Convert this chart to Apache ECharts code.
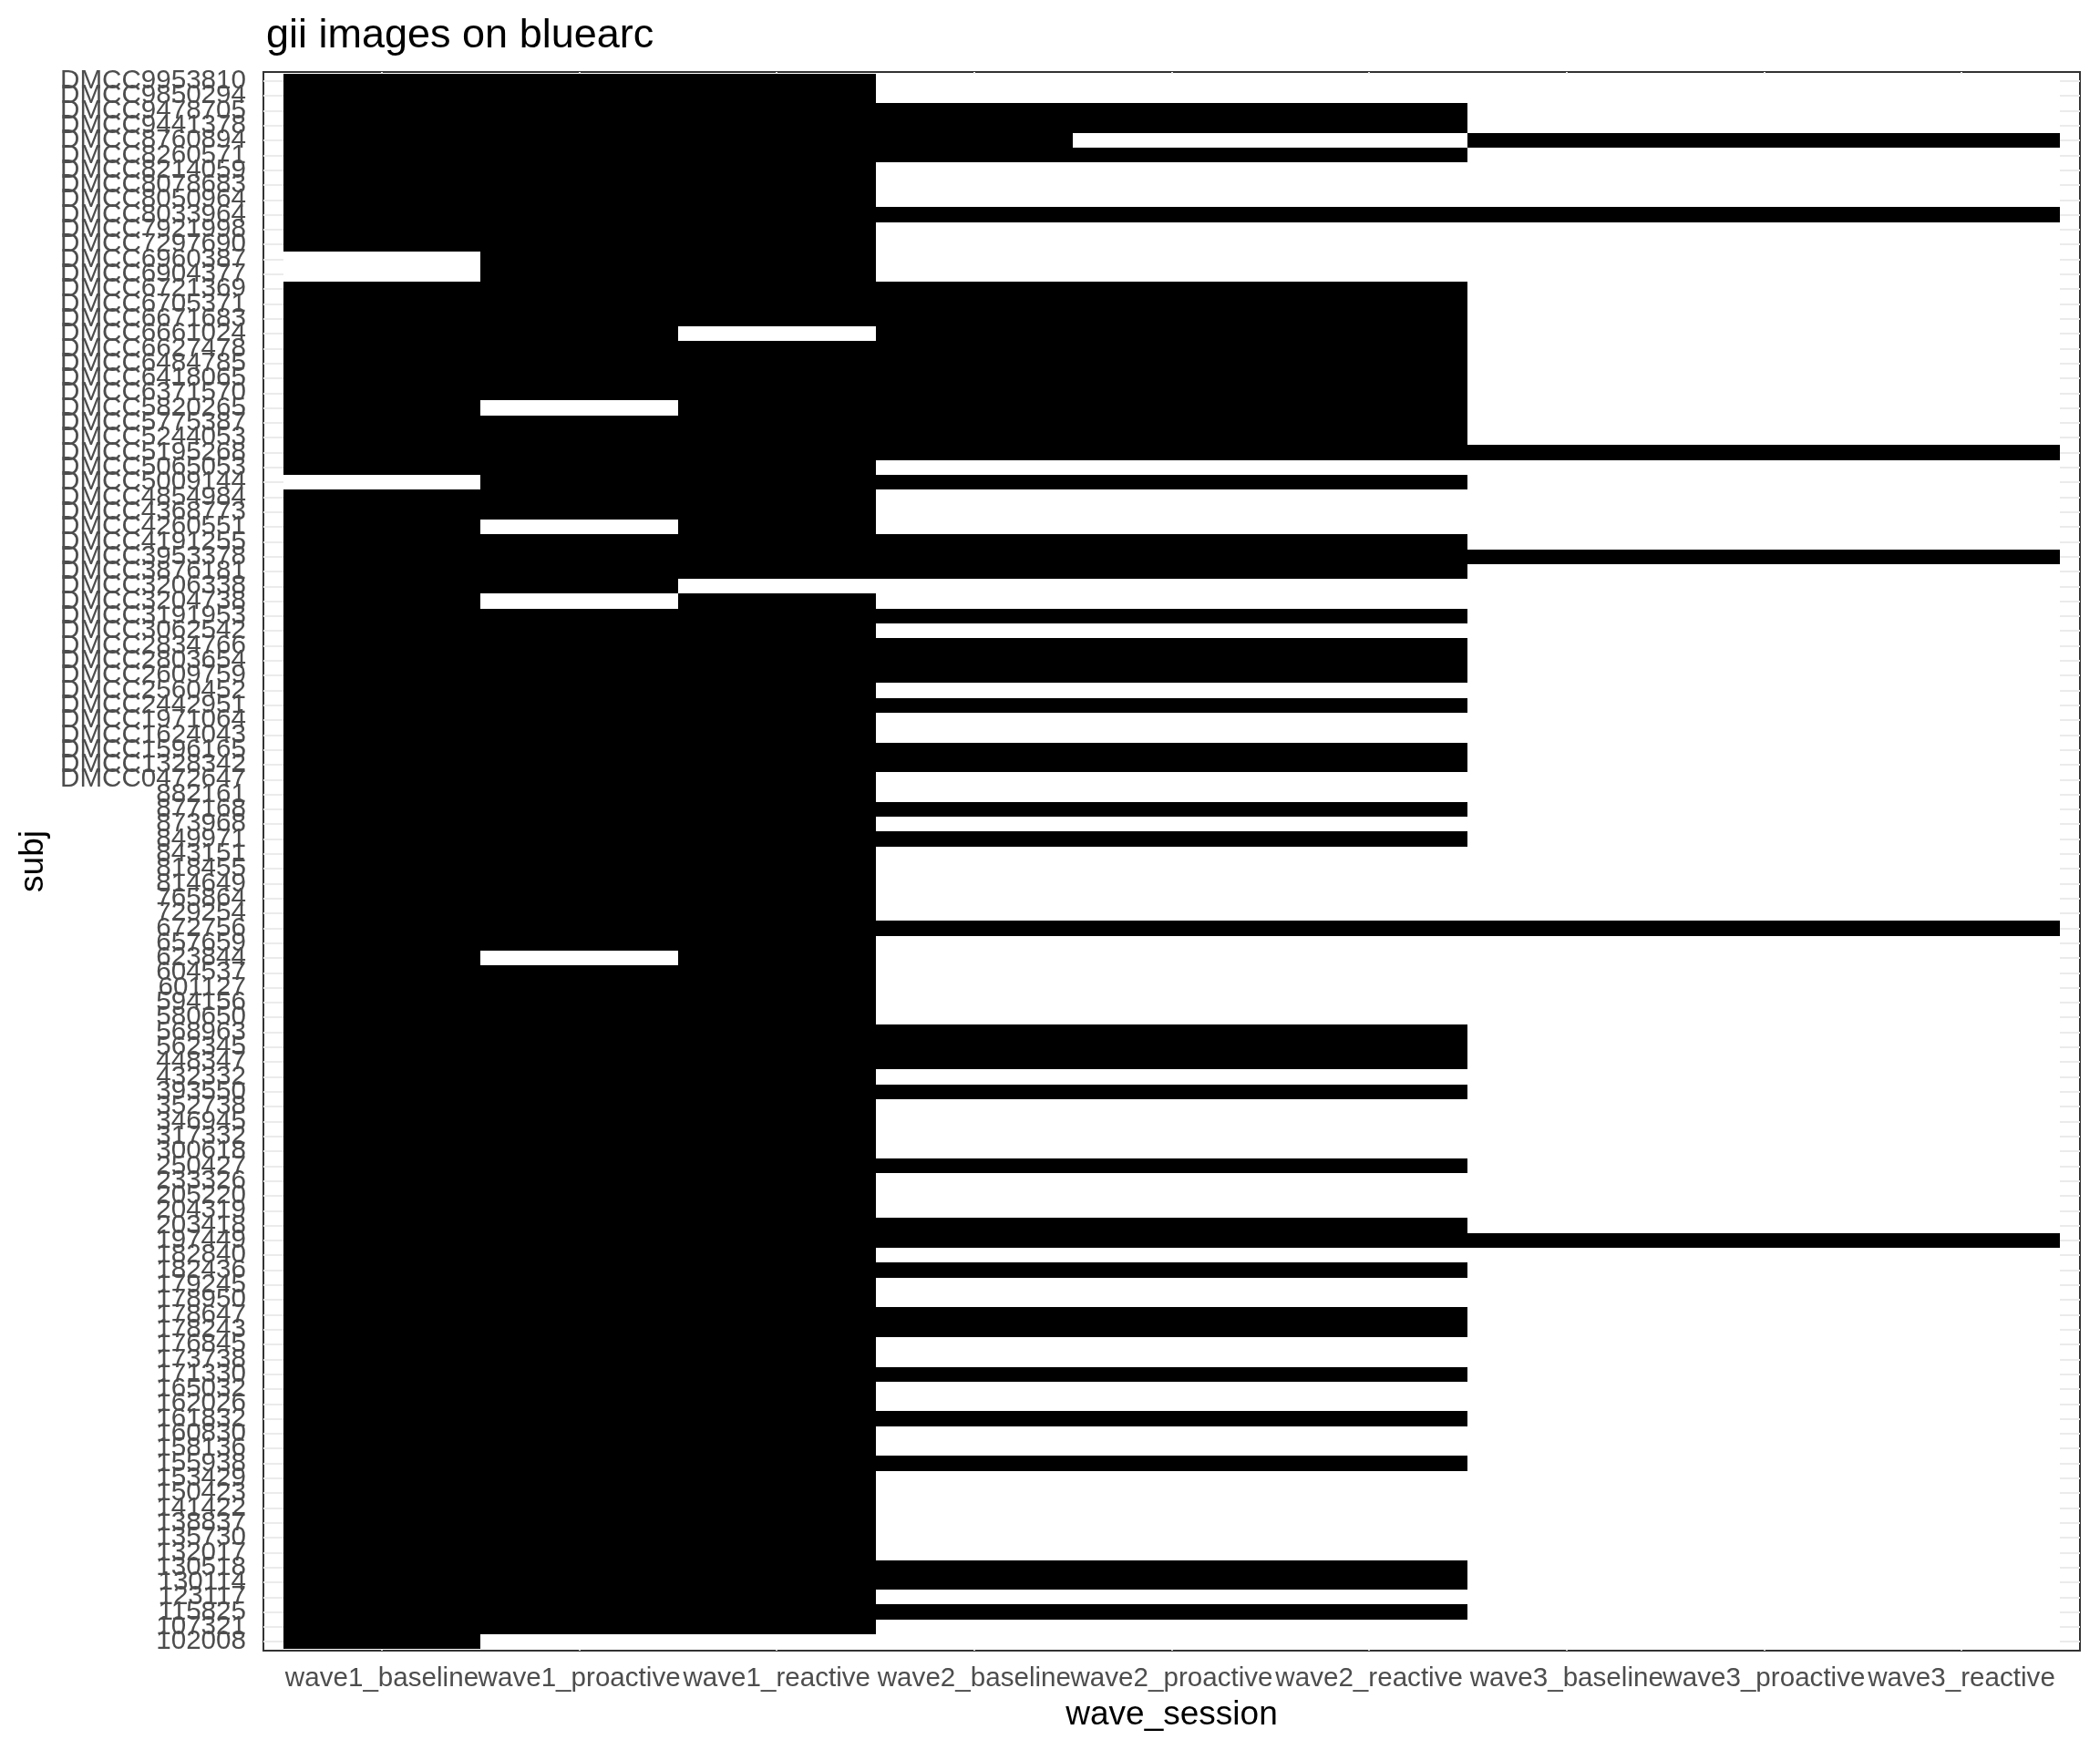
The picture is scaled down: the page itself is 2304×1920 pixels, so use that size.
<!DOCTYPE html>
<html>
<head>
<meta charset="utf-8">
<script src="https://cdn.jsdelivr.net/npm/echarts@6/dist/echarts.min.js"></script>
<style>html,body{margin:0;padding:0;background:#fff;}#chart{width:2304px;height:1920px;}</style>
</head>
<body>
<div id="chart"></div>
<script>
const sessions = ['wave1_baseline','wave1_proactive','wave1_reactive','wave2_baseline','wave2_proactive','wave2_reactive','wave3_baseline','wave3_proactive','wave3_reactive'];

const subjects = [
'DMCC9953810','DMCC9850294','DMCC9478705','DMCC9441378','DMCC8760894','DMCC8260571','DMCC8214059','DMCC8078683','DMCC8050964','DMCC8033964',
'DMCC7921998','DMCC7297690','DMCC6960387','DMCC6904377','DMCC6721369','DMCC6705371','DMCC6671683','DMCC6661024','DMCC6627478','DMCC6484785',
'DMCC6418065','DMCC6371570','DMCC5820265','DMCC5775387','DMCC5244053','DMCC5195268','DMCC5065053','DMCC5009144','DMCC4854984','DMCC4368773',
'DMCC4260551','DMCC4191255','DMCC3953378','DMCC3876181','DMCC3206338','DMCC3204738','DMCC3191953','DMCC3062542','DMCC2834766','DMCC2803654',
'DMCC2609759','DMCC2560452','DMCC2442951','DMCC1971064','DMCC1624043','DMCC1596165','DMCC1328342','DMCC0472647','882161','877168',
'873968','849971','843151','818455','814649','765864','729254','672756','657659','623844',
'604537','601127','594156','580650','568963','562345','448347','432332','393550','352738',
'346945','317332','300618','250427','233326','205220','204319','203418','197449','182840',
'182436','179245','178950','178647','178243','176845','173738','171330','165032','162026',
'161832','160830','158136','155938','153429','150423','141422','138837','135730','132017',
'130518','130114','123117','115825','107321','102008'
];

// presence (1 = image present) per session, rows in the order of `subjects`
const wave1_baseline = [
1,1,1,1,1,1,1,1,1,1, 1,1,0,0,1,1,1,1,1,1, 1,1,1,1,1,1,1,0,1,1, 1,1,1,1,1,1,1,1,1,1,
1,1,1,1,1,1,1,1,1,1, 1,1,1,1,1,1,1,1,1,1, 1,1,1,1,1,1,1,1,1,1, 1,1,1,1,1,1,1,1,1,1,
1,1,1,1,1,1,1,1,1,1, 1,1,1,1,1,1,1,1,1,1, 1,1,1,1,1,1];
const wave1_proactive = [
1,1,1,1,1,1,1,1,1,1, 1,1,1,1,1,1,1,1,1,1, 1,1,0,1,1,1,1,1,1,1, 0,1,1,1,1,0,1,1,1,1,
1,1,1,1,1,1,1,1,1,1, 1,1,1,1,1,1,1,1,1,0, 1,1,1,1,1,1,1,1,1,1, 1,1,1,1,1,1,1,1,1,1,
1,1,1,1,1,1,1,1,1,1, 1,1,1,1,1,1,1,1,1,1, 1,1,1,1,1,0];
const wave1_reactive = [
1,1,1,1,1,1,1,1,1,1, 1,1,1,1,1,1,1,0,1,1, 1,1,1,1,1,1,1,1,1,1, 1,1,1,1,0,1,1,1,1,1,
1,1,1,1,1,1,1,1,1,1, 1,1,1,1,1,1,1,1,1,1, 1,1,1,1,1,1,1,1,1,1, 1,1,1,1,1,1,1,1,1,1,
1,1,1,1,1,1,1,1,1,1, 1,1,1,1,1,1,1,1,1,1, 1,1,1,1,1,0];
const wave2_baseline = [
0,0,1,1,1,1,0,0,0,1, 0,0,0,0,1,1,1,1,1,1, 1,1,1,1,1,1,0,1,0,0, 0,1,1,1,0,0,1,0,1,1,
1,0,1,0,0,1,1,0,0,1, 0,1,0,0,0,0,0,1,0,0, 0,0,0,0,1,1,1,0,1,0, 0,0,0,1,0,0,0,1,1,0,
1,0,0,1,1,0,0,1,0,0, 1,0,0,1,0,0,0,0,0,0, 1,1,0,1,0,0];
const wave2_proactive = [
0,0,1,1,0,1,0,0,0,1, 0,0,0,0,1,1,1,1,1,1, 1,1,1,1,1,1,0,1,0,0, 0,1,1,1,0,0,1,0,1,1,
1,0,1,0,0,1,1,0,0,1, 0,1,0,0,0,0,0,1,0,0, 0,0,0,0,1,1,1,0,1,0, 0,0,0,1,0,0,0,1,1,0,
1,0,0,1,1,0,0,1,0,0, 1,0,0,1,0,0,0,0,0,0, 1,1,0,1,0,0];
const wave2_reactive = [
0,0,1,1,0,1,0,0,0,1, 0,0,0,0,1,1,1,1,1,1, 1,1,1,1,1,1,0,1,0,0, 0,1,1,1,0,0,1,0,1,1,
1,0,1,0,0,1,1,0,0,1, 0,1,0,0,0,0,0,1,0,0, 0,0,0,0,1,1,1,0,1,0, 0,0,0,1,0,0,0,1,1,0,
1,0,0,1,1,0,0,1,0,0, 1,0,0,1,0,0,0,0,0,0, 1,1,0,1,0,0];
const wave3_baseline = [
0,0,0,0,1,0,0,0,0,1, 0,0,0,0,0,0,0,0,0,0, 0,0,0,0,0,1,0,0,0,0, 0,0,1,0,0,0,0,0,0,0,
0,0,0,0,0,0,0,0,0,0, 0,0,0,0,0,0,0,1,0,0, 0,0,0,0,0,0,0,0,0,0, 0,0,0,0,0,0,0,0,1,0,
0,0,0,0,0,0,0,0,0,0, 0,0,0,0,0,0,0,0,0,0, 0,0,0,0,0,0];
const wave3_proactive = [
0,0,0,0,1,0,0,0,0,1, 0,0,0,0,0,0,0,0,0,0, 0,0,0,0,0,1,0,0,0,0, 0,0,1,0,0,0,0,0,0,0,
0,0,0,0,0,0,0,0,0,0, 0,0,0,0,0,0,0,1,0,0, 0,0,0,0,0,0,0,0,0,0, 0,0,0,0,0,0,0,0,1,0,
0,0,0,0,0,0,0,0,0,0, 0,0,0,0,0,0,0,0,0,0, 0,0,0,0,0,0];
const wave3_reactive = [
0,0,0,0,1,0,0,0,0,1, 0,0,0,0,0,0,0,0,0,0, 0,0,0,0,0,1,0,0,0,0, 0,0,1,0,0,0,0,0,0,0,
0,0,0,0,0,0,0,0,0,0, 0,0,0,0,0,0,0,1,0,0, 0,0,0,0,0,0,0,0,0,0, 0,0,0,0,0,0,0,0,1,0,
0,0,0,0,0,0,0,0,0,0, 0,0,0,0,0,0,0,0,0,0, 0,0,0,0,0,0];

const presence = [wave1_baseline, wave1_proactive, wave1_reactive, wave2_baseline, wave2_proactive,
                  wave2_reactive, wave3_baseline, wave3_proactive, wave3_reactive];

const cells = [];
presence.forEach((col, i) => col.forEach((v, j) => cells.push([i, j, v])));

const xIdx = sessions.map((s, i) => i);
const yIdx = subjects.map((s, i) => i);
const X_MIN = -0.6, X_MAX = sessions.length - 0.4;
const Y_MIN = -0.6, Y_MAX = subjects.length - 0.4;
// label axes carry a guard value at each end (hidden), so that ECharts'
// min/max-label overlap check never removes a real label
const xLab = [X_MIN].concat(xIdx, [X_MAX]);
const yLab = [Y_MIN].concat(yIdx, [Y_MAX]);
const FONT = '"Liberation Sans", Arial, sans-serif';
const labelStyle = {fontFamily: FONT, fontSize: 29.6, color: '#4D4D4D'};

const chart = echarts.init(document.getElementById('chart'), null, {renderer: 'canvas'});
chart.setOption({
  animation: false,
  backgroundColor: '#ffffff',
  title: {
    text: 'gii images on bluearc',
    left: 287, top: 12,
    textStyle: {fontFamily: FONT, fontSize: 45, fontWeight: 'normal', color: '#000000'}
  },
  grid: {
    left: 289, right: 22, top: 79, bottom: 109,
    show: true, borderColor: '#333333', borderWidth: 2, backgroundColor: '#ffffff'
  },
  xAxis: [{
    type: 'value', min: X_MIN, max: X_MAX,
    name: 'wave_session', nameLocation: 'middle', nameGap: 52,
    nameTextStyle: {fontFamily: FONT, fontSize: 37, color: '#000000'},
    axisLine: {show: false},
    axisTick: {show: true, length: 9, customValues: xIdx, lineStyle: {color: '#333333', width: 2}},
    axisLabel: {show: false},
    splitLine: {show: true, lineStyle: {color: '#EBEBEB', width: 2}}
  }, {
    type: 'value', min: X_MIN, max: X_MAX, position: 'bottom', offset: 0,
    axisLine: {show: false}, axisTick: {show: false}, splitLine: {show: false},
    axisLabel: Object.assign({customValues: xLab, showMinLabel: false, showMaxLabel: false,
      hideOverlap: false, margin: 16,
      formatter: v => (Number.isInteger(v) ? (sessions[v] || '') : '')}, labelStyle)
  }],
  yAxis: [{
    type: 'value', inverse: true, min: Y_MIN, max: Y_MAX,
    name: 'subj', nameLocation: 'middle', nameGap: 234, nameRotate: 90,
    nameTextStyle: {fontFamily: FONT, fontSize: 37, color: '#000000'},
    axisLine: {show: false},
    axisTick: {show: true, length: 9, customValues: yIdx, lineStyle: {color: '#333333', width: 2}},
    axisLabel: {show: false},
    splitLine: {show: true, lineStyle: {color: '#EBEBEB', width: 2}}
  }, {
    type: 'value', inverse: true, min: Y_MIN, max: Y_MAX, position: 'left', offset: 0,
    axisLine: {show: false}, axisTick: {show: false}, splitLine: {show: false},
    axisLabel: Object.assign({customValues: yLab, showMinLabel: false, showMaxLabel: false,
      hideOverlap: false, margin: 19,
      formatter: v => (Number.isInteger(v) ? (subjects[v] || '') : '')}, labelStyle)
  }],
  series: [{
    type: 'custom',
    xAxisIndex: 0, yAxisIndex: 0,
    data: cells,
    renderItem: function (params, api) {
      const x = api.value(0), y = api.value(1), v = api.value(2);
      const p0 = api.coord([x - 0.5, y - 0.5]);
      const p1 = api.coord([x + 0.5, y + 0.5]);
      const x0 = Math.round(Math.min(p0[0], p1[0])), x1 = Math.round(Math.max(p0[0], p1[0]));
      const y0 = Math.round(Math.min(p0[1], p1[1])), y1 = Math.round(Math.max(p0[1], p1[1]));
      return {type: 'rect', shape: {x: x0, y: y0, width: x1 - x0, height: y1 - y0},
              style: {fill: v ? '#000000' : '#ffffff'}};
    }
  }]
});
</script>
</body>
</html>
